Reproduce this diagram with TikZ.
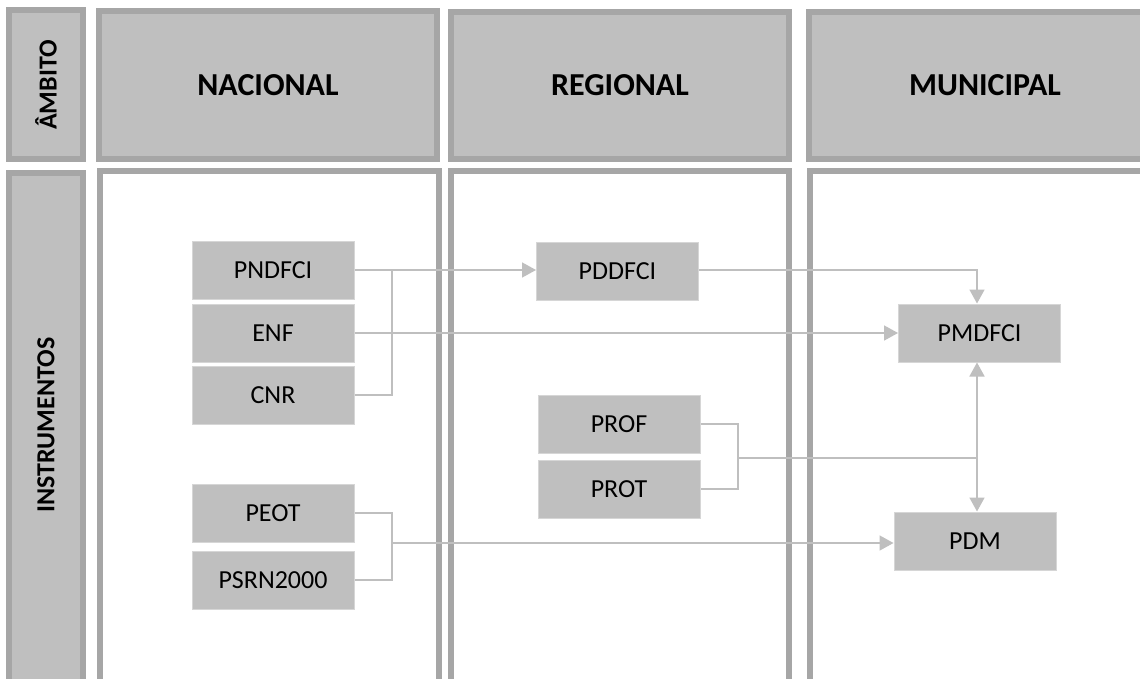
\documentclass[tikz,border=0pt]{standalone}
\usepackage{fontspec}
\setmainfont{Carlito}
\usetikzlibrary{arrows.meta}
\definecolor{frameborder}{HTML}{A6A6A6}
\definecolor{framefill}{HTML}{BFBFBF}
\definecolor{boxfill}{HTML}{BFBFBF}
\definecolor{boxline}{HTML}{D6D6D6}
\definecolor{linkcol}{HTML}{BFBFBF}
\tikzset{
  hdr/.style={draw=frameborder, fill=framefill, line width=6pt},
  bodyframe/.style={draw=frameborder, fill=white, line width=5.5pt},
  hdrtext/.style={font=\fontsize{32}{36}\selectfont\bfseries, text=black},
  sidetext/.style={font=\fontsize{26}{30}\selectfont\bfseries, text=black, rotate=90},
  instbox/.style={draw=boxline, fill=boxfill, line width=1pt, minimum width=162pt, minimum height=58pt, inner sep=0pt, font=\fontsize{26}{30}\selectfont, text=black},
  link/.style={draw=linkcol, line width=1.6pt},
  arr/.style={link, -{Triangle[length=14pt, width=15pt]}},
  darr/.style={link, {Triangle[length=14pt, width=15pt]}-{Triangle[length=14pt, width=15pt]}}
}
\begin{document}
\begin{tikzpicture}[x=1pt, y=-1pt]
\useasboundingbox (0,0) rectangle (1140,679);
\fill[white] (0,0) rectangle (1140,679);
\begin{scope}
\clip (0,0) rectangle (1140,679);
% headers
\draw[hdr] (9,10) rectangle (83,159);
\draw[hdr] (99,11) rectangle (437,159);
\draw[hdr] (451,12) rectangle (789,159);
\draw[hdr] (809,12) rectangle (1160,159);
% bodies
\draw[hdr] (9,173) rectangle (83,685);
\draw[bodyframe] (100,171) rectangle (439,700);
\draw[bodyframe] (451,171) rectangle (789,700);
\draw[bodyframe] (810,171) rectangle (1160,700);
\end{scope}
% header texts
\node[sidetext] (ambito) at (46,85) {ÂMBITO};
\node[hdrtext] (nacional) at (268,85) {NACIONAL};
\node[hdrtext] (regional) at (620,85) {REGIONAL};
\node[hdrtext] (municipal) at (985,85) {MUNICIPAL};
\node[sidetext] (instrumentos) at (46,425) {INSTRUMENTOS};
% instrument boxes
\node[instbox] (pndfci) at (273,270) {PNDFCI};
\node[instbox] (enf) at (273,333) {ENF};
\node[instbox] (cnr) at (273,395) {CNR};
\node[instbox] (peot) at (273,513) {PEOT};
\node[instbox] (psrn) at (273,580) {PSRN2000};
\node[instbox] (pddfci) at (617.5,271) {PDDFCI};
\node[instbox] (prof) at (619,424) {PROF};
\node[instbox] (prot) at (619,489) {PROT};
\node[instbox] (pmdfci) at (979.5,333) {PMDFCI};
\node[instbox] (pdm) at (975,541) {PDM};
% junction coordinates
\coordinate (j1) at (392,270);
\coordinate (j2) at (738,458);
\coordinate (j3) at (392,543);
\coordinate (pmx) at (977,458);
% connectors
\draw[arr] (pndfci.east) -- (pddfci.west |- pndfci.east);
\draw[link] (cnr.east) -| (j1);
\draw[arr] (enf.east) -- (pmdfci.west |- enf.east);
\draw[arr] (pddfci.east |- pndfci.east) -| (pmdfci.north -| pmx);
\draw[link] (prof.east) -| (j2) |- (prot.east);
\draw[link] (j2) -- (pmx);
\draw[darr] (pmdfci.south -| pmx) -- (pdm.north -| pmx);
\draw[link] (peot.east) -| (j3) |- (psrn.east);
\draw[arr] (j3) -- (pdm.west |- j3);
\end{tikzpicture}
\end{document}
